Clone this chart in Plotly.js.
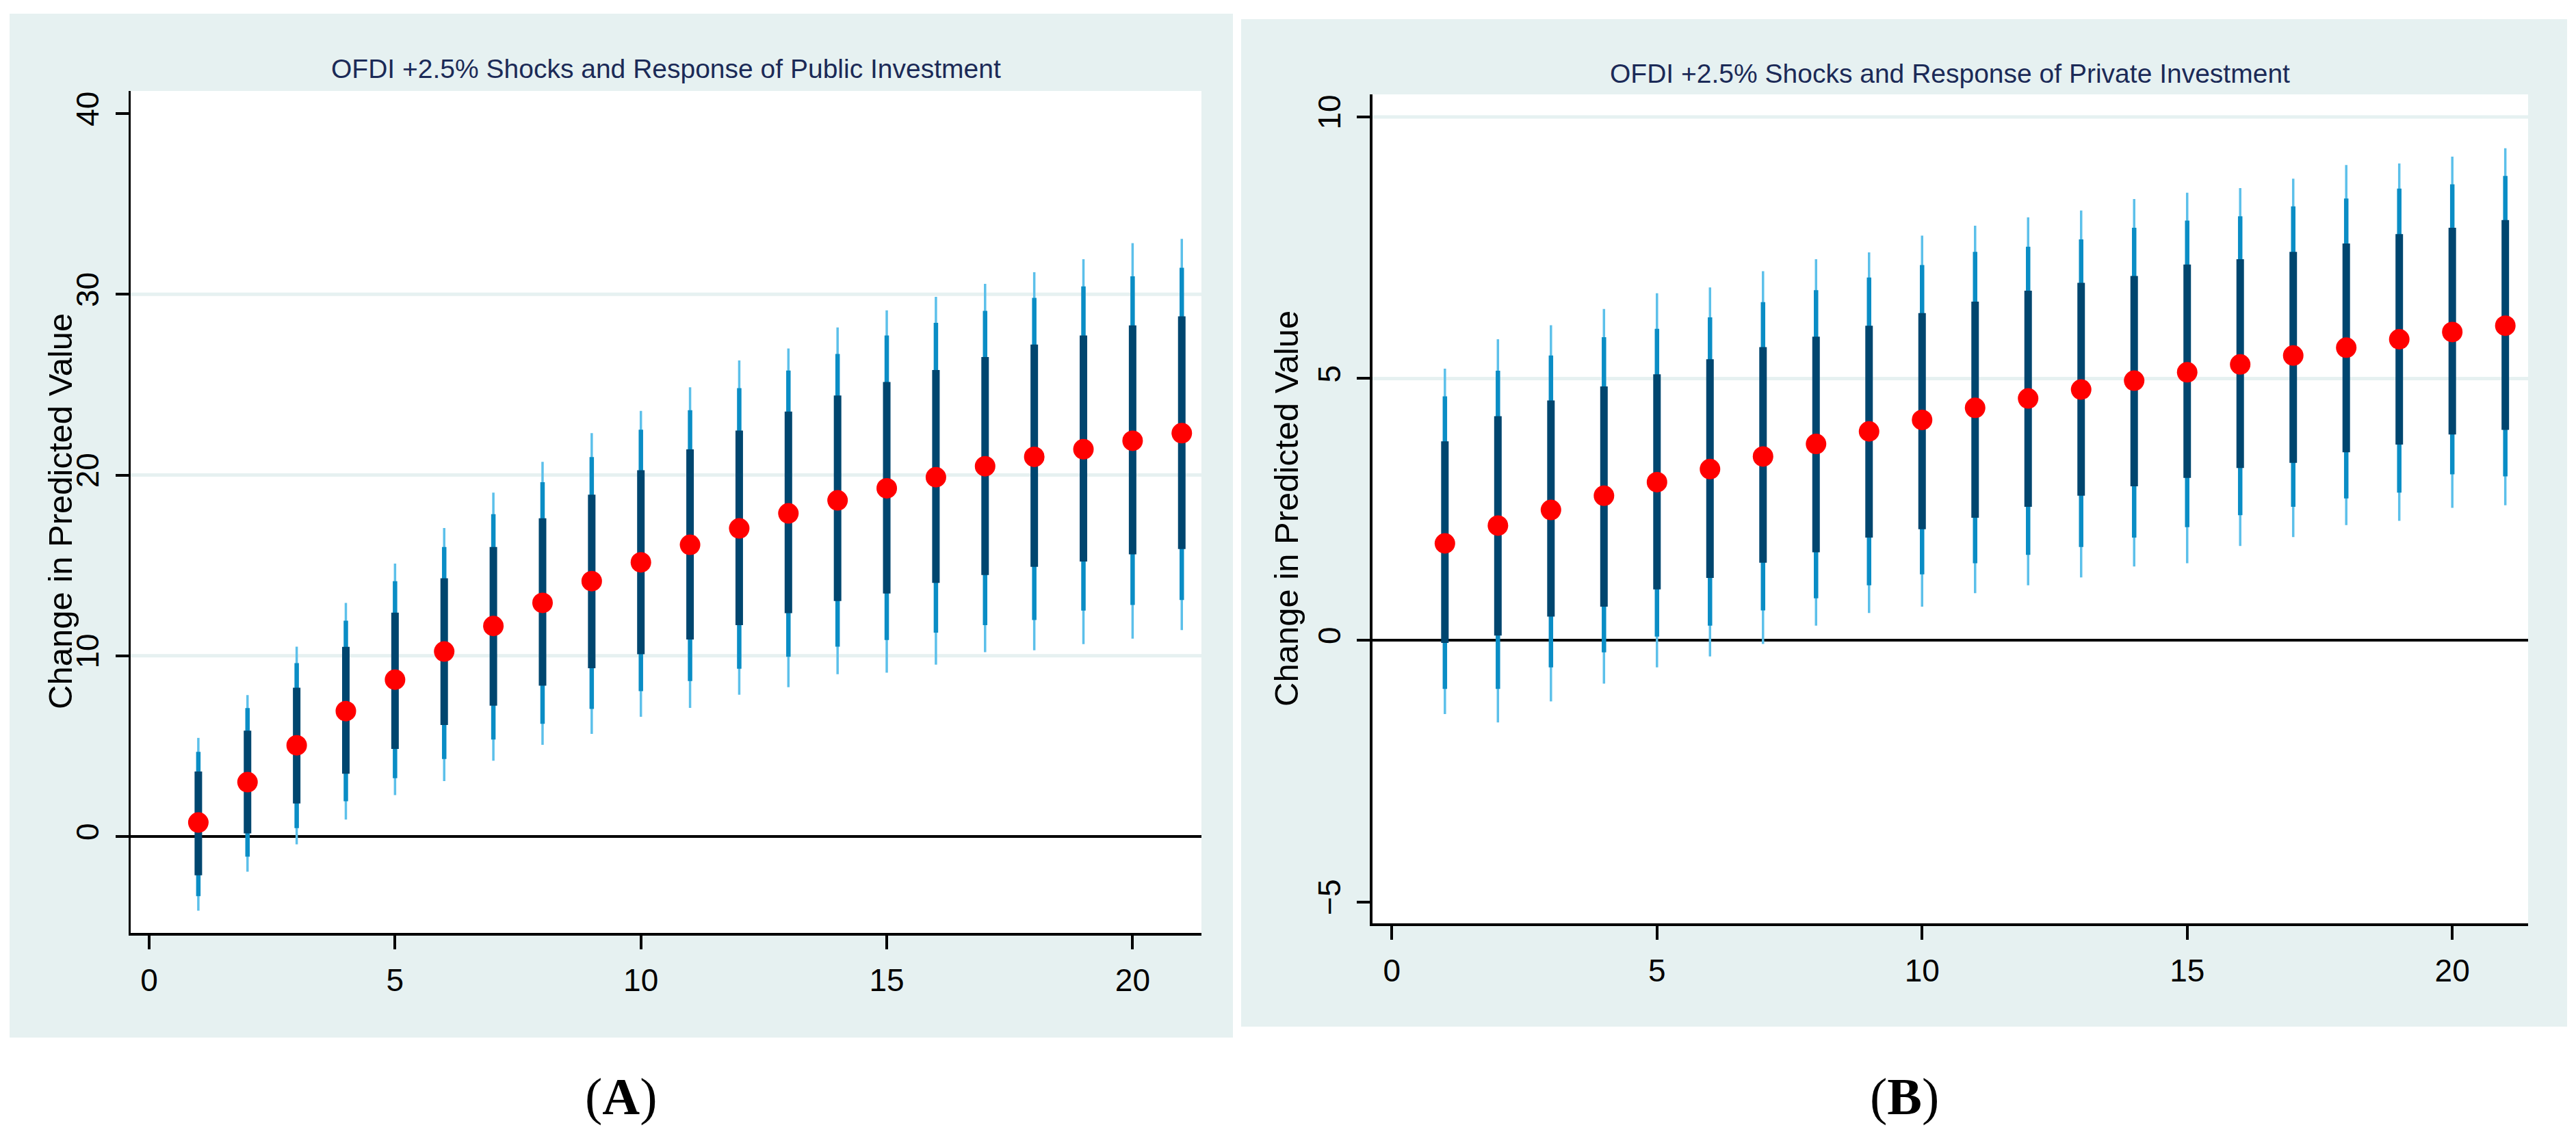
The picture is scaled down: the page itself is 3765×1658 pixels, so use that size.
<!DOCTYPE html>
<html>
<head>
<meta charset="utf-8">
<script src="https://cdn.plot.ly/plotly-3.0.1.min.js"></script>
<style>
  html, body { margin: 0; padding: 0; background: #ffffff; }
  #chart { width: 3765px; height: 1658px; }
</style>
</head>
<body>
<div id="chart"></div>
<script>
// ---------- Data ----------
const periods = [1,2,3,4,5,6,7,8,9,10,11,12,13,14,15,16,17,18,19,20,21];

// Panel A: Public Investment
const pubEst     = [0.78, 3.01, 5.05, 6.94, 8.68, 10.24, 11.65, 12.93, 14.13, 15.17, 16.14, 17.05, 17.88, 18.60, 19.27, 19.88, 20.49, 21.01, 21.43, 21.90, 22.32];
const pubInnerLo = [-2.14, 0.18, 1.83, 3.48, 4.85, 6.17, 7.24, 8.35, 9.31, 10.09, 10.90, 11.70, 12.36, 13.03, 13.45, 14.03, 14.47, 14.92, 15.22, 15.61, 15.91];
const pubInnerHi = [3.60, 5.86, 8.24, 10.50, 12.39, 14.29, 16.02, 17.61, 18.92, 20.27, 21.42, 22.46, 23.51, 24.40, 25.15, 25.81, 26.53, 27.22, 27.72, 28.28, 28.78];
const pubMidLo   = [-3.30, -1.11, 0.47, 1.95, 3.23, 4.29, 5.37, 6.24, 7.06, 8.05, 8.60, 9.29, 9.95, 10.51, 10.87, 11.28, 11.70, 11.98, 12.50, 12.81, 13.09];
const pubMidHi   = [4.69, 7.11, 9.60, 11.94, 14.13, 16.02, 17.84, 19.61, 21.00, 22.51, 23.59, 24.81, 25.78, 26.70, 27.72, 28.42, 29.08, 29.80, 30.44, 31.00, 31.47];
const pubOuterLo = [-4.10, -1.94, -0.43, 0.94, 2.29, 3.07, 4.20, 5.08, 5.68, 6.63, 7.12, 7.85, 8.26, 8.98, 9.07, 9.51, 10.20, 10.31, 10.65, 10.95, 11.42];
const pubOuterHi = [5.46, 7.83, 10.51, 12.93, 15.10, 17.07, 19.03, 20.73, 22.32, 23.55, 24.86, 26.34, 27.00, 28.17, 29.11, 29.86, 30.58, 31.22, 31.94, 32.83, 33.07];

// Panel B: Private Investment
const prvEst     = [1.85, 2.19, 2.49, 2.76, 3.02, 3.27, 3.51, 3.75, 3.99, 4.21, 4.44, 4.62, 4.79, 4.96, 5.12, 5.27, 5.44, 5.59, 5.75, 5.89, 6.01];
const prvInnerLo = [-0.05, 0.09, 0.45, 0.64, 0.97, 1.19, 1.48, 1.68, 1.96, 2.12, 2.34, 2.55, 2.76, 2.94, 3.10, 3.29, 3.39, 3.59, 3.74, 3.93, 4.02];
const prvInnerHi = [3.80, 4.28, 4.58, 4.85, 5.08, 5.37, 5.60, 5.80, 6.01, 6.25, 6.47, 6.68, 6.83, 6.96, 7.18, 7.28, 7.42, 7.58, 7.76, 7.88, 8.03];
const prvMidLo   = [-0.93, -0.93, -0.52, -0.23, 0.07, 0.28, 0.57, 0.80, 1.05, 1.26, 1.47, 1.63, 1.78, 1.96, 2.16, 2.39, 2.55, 2.71, 2.82, 3.17, 3.13];
const prvMidHi   = [4.66, 5.15, 5.44, 5.79, 5.95, 6.17, 6.46, 6.69, 6.93, 7.17, 7.42, 7.52, 7.66, 7.88, 8.02, 8.10, 8.29, 8.44, 8.63, 8.71, 8.87];
const prvOuterLo = [-1.41, -1.57, -1.17, -0.83, -0.52, -0.31, -0.07, 0.28, 0.52, 0.64, 0.90, 1.05, 1.20, 1.41, 1.47, 1.80, 1.97, 2.20, 2.28, 2.53, 2.58];
const prvOuterHi = [5.19, 5.75, 6.02, 6.33, 6.63, 6.74, 7.05, 7.28, 7.41, 7.73, 7.92, 8.08, 8.21, 8.43, 8.55, 8.64, 8.82, 9.08, 9.11, 9.24, 9.40];

// Tick labels / gridlines
const xTicks      = [0, 5, 10, 15, 20];
const pubYTicks   = [0, 10, 20, 30, 40];
const prvYTicks   = [-5, 0, 5, 10];
const pubGrid     = [10, 20, 30];
const prvGrid     = [5, 10];

const titleA = "OFDI +2.5% Shocks and Response of Public Investment";
const titleB = "OFDI +2.5% Shocks and Response of Private Investment";
const yTitle = "Change in Predicted Value";
const panelA = "(<b>A</b>)";
const panelB = "(<b>B</b>)";

// ---------- Styles ----------
const W = 3765, H = 1658;
const BG = "#e6f1f1";
const C_OUTER = "#5cc0ea";
const C_MID = "#0a8dc5";
const C_INNER = "#00466f";
const C_DOT = "#ff0000";
const TITLE_COLOR = "#1b2a57";
const SANS = "Liberation Sans, Arial, sans-serif";

function px(x) { return x / W; }
function py(y) { return 1 - y / H; }

function segTrace(xs, lo, hi, color, width, xa, ya) {
  const X = [], Y = [];
  for (let i = 0; i < xs.length; i++) {
    X.push(xs[i], xs[i], null);
    Y.push(lo[i], hi[i], null);
  }
  return { x: X, y: Y, mode: "lines", type: "scatter", xaxis: xa, yaxis: ya,
           line: { color: color, width: width }, hoverinfo: "skip", showlegend: false };
}
function dotTrace(xs, ys, xa, ya) {
  return { x: xs, y: ys, mode: "markers", type: "scatter", xaxis: xa, yaxis: ya,
           marker: { color: C_DOT, size: 30, line: { width: 0 } }, showlegend: false };
}

const traces = [
  segTrace(periods, pubOuterLo, pubOuterHi, C_OUTER, 3.5, "x", "y"),
  segTrace(periods, pubMidLo, pubMidHi, C_MID, 6.5, "x", "y"),
  segTrace(periods, pubInnerLo, pubInnerHi, C_INNER, 11, "x", "y"),
  dotTrace(periods, pubEst, "x", "y"),
  segTrace(periods, prvOuterLo, prvOuterHi, C_OUTER, 3.5, "x2", "y2"),
  segTrace(periods, prvMidLo, prvMidHi, C_MID, 6.5, "x2", "y2"),
  segTrace(periods, prvInnerLo, prvInnerHi, C_INNER, 11, "x2", "y2"),
  dotTrace(periods, prvEst, "x2", "y2")
];

function xAxis(domain, range, anchor) {
  return {
    domain: domain, range: range, anchor: anchor,
    tickmode: "array", tickvals: xTicks, ticktext: xTicks.map(String),
    ticks: "outside", ticklen: 20, tickwidth: 4, tickcolor: "#000",
    showline: true, linecolor: "#000", linewidth: 3.5,
    showgrid: false, zeroline: false,
    tickfont: { family: SANS, size: 46, color: "#000" },
    ticklabelstandoff: 6
  };
}
function yAxis(domain, range, anchor, ticks) {
  return {
    domain: domain, range: range, anchor: anchor,
    tickmode: "array", tickvals: ticks, ticktext: ticks.map(v => v < 0 ? "\u2212" + Math.abs(v) : String(v)),
    ticks: "outside", ticklen: 19, tickwidth: 4, tickcolor: "#000",
    showline: true, linecolor: "#000", linewidth: 3.5,
    showgrid: false, zeroline: true, zerolinecolor: "#000", zerolinewidth: 4,
    tickangle: -90,
    tickfont: { family: SANS, size: 46, color: "#000" },
    ticklabelstandoff: 6
  };
}

const shapes = [
  // panel backgrounds
  { type: "rect", xref: "paper", yref: "paper", x0: px(14), x1: px(1802), y0: py(1517), y1: py(20),
    fillcolor: BG, line: { width: 0 }, layer: "below" },
  { type: "rect", xref: "paper", yref: "paper", x0: px(1814), x1: px(3752), y0: py(1501), y1: py(28),
    fillcolor: BG, line: { width: 0 }, layer: "below" },
  // plot areas
  { type: "rect", xref: "x domain", yref: "y domain", x0: 0, x1: 1, y0: 0, y1: 1,
    fillcolor: "#ffffff", line: { width: 0 }, layer: "below" },
  { type: "rect", xref: "x2 domain", yref: "y2 domain", x0: 0, x1: 1, y0: 0, y1: 1,
    fillcolor: "#ffffff", line: { width: 0 }, layer: "below" }
];
pubGrid.forEach(g => shapes.push({ type: "line", xref: "x domain", yref: "y", x0: 0, x1: 1, y0: g, y1: g,
  line: { color: BG, width: 5 }, layer: "below" }));
prvGrid.forEach(g => shapes.push({ type: "line", xref: "x2 domain", yref: "y2", x0: 0, x1: 1, y0: g, y1: g,
  line: { color: BG, width: 5 }, layer: "below" }));

const annotations = [
  { text: titleA, xref: "paper", yref: "paper", x: px(973.5), y: py(101), xanchor: "center", yanchor: "middle",
    showarrow: false, font: { family: SANS, size: 39, color: TITLE_COLOR } },
  { text: titleB, xref: "paper", yref: "paper", x: px(2850), y: py(107), xanchor: "center", yanchor: "middle",
    showarrow: false, font: { family: SANS, size: 39, color: TITLE_COLOR } },
  { text: yTitle, xref: "paper", yref: "paper", x: px(88), y: py(748), xanchor: "center", yanchor: "middle",
    textangle: -90, showarrow: false, font: { family: SANS, size: 49, color: "#000" } },
  { text: yTitle, xref: "paper", yref: "paper", x: px(1880), y: py(744), xanchor: "center", yanchor: "middle",
    textangle: -90, showarrow: false, font: { family: SANS, size: 49, color: "#000" } },
  { text: panelA, xref: "paper", yref: "paper", x: px(908), y: py(1603), xanchor: "center", yanchor: "middle",
    showarrow: false, font: { family: "Liberation Serif, Times New Roman, serif", size: 76, color: "#000" } },
  { text: panelB, xref: "paper", yref: "paper", x: px(2783), y: py(1603), xanchor: "center", yanchor: "middle",
    showarrow: false, font: { family: "Liberation Serif, Times New Roman, serif", size: 76, color: "#000" } }
];

const layout = {
  width: W, height: H,
  margin: { l: 0, r: 0, t: 0, b: 0, pad: 0 },
  paper_bgcolor: "#ffffff",
  plot_bgcolor: "#ffffff",
  showlegend: false,
  xaxis:  xAxis([px(191), px(1756)], [-0.376, 21.40], "y"),
  yaxis:  yAxis([py(1364), py(133)], [-5.33, 41.25], "x", pubYTicks),
  xaxis2: xAxis([px(2005.5), px(3695)], [-0.372, 21.43], "y2"),
  yaxis2: yAxis([py(1350), py(138)], [-5.41, 10.43], "x2", prvYTicks),
  shapes: shapes,
  annotations: annotations
};

Plotly.newPlot("chart", traces, layout, { staticPlot: true, displayModeBar: false });
</script>
</body>
</html>
